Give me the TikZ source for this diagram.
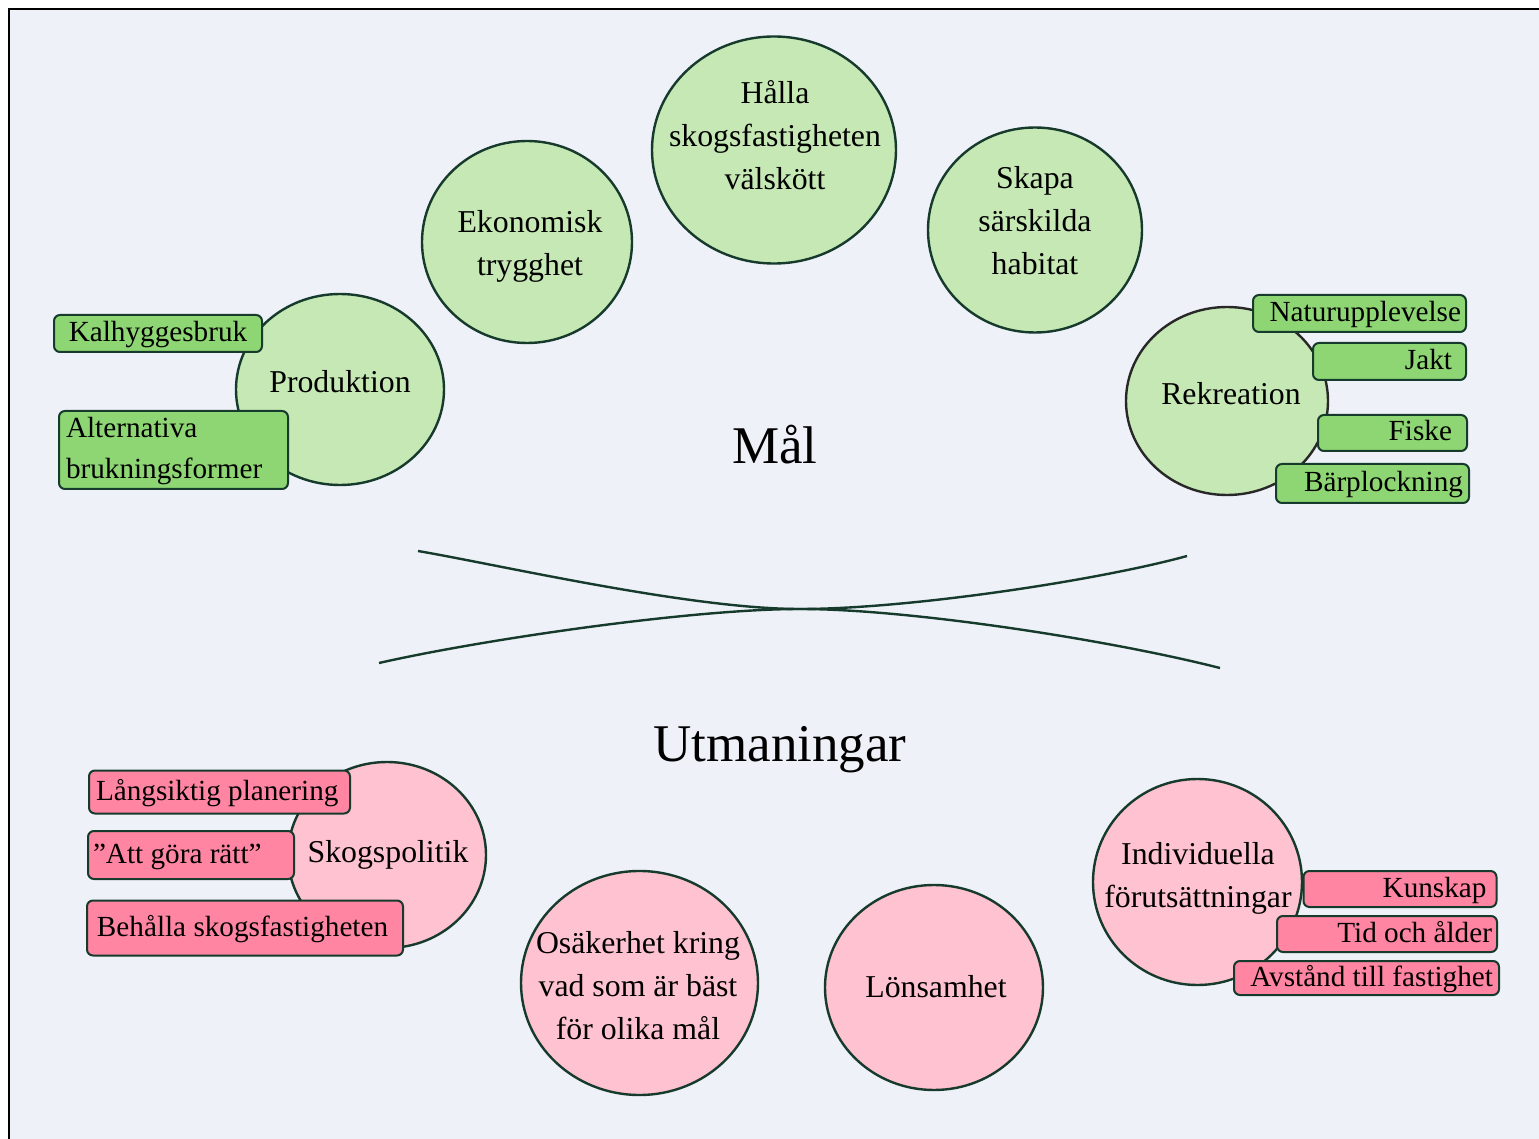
\documentclass[tikz,border=0pt]{standalone}
\usepackage{fontspec}
\setmainfont{Liberation Serif}
\usetikzlibrary{shapes,positioning}

\definecolor{pagebg}{RGB}{238,241,248}
\definecolor{rim}{RGB}{22,58,44}
\definecolor{rimgrey}{RGB}{40,40,40}
\definecolor{goalfill}{RGB}{198,232,180}
\definecolor{goaltag}{RGB}{142,214,115}
\definecolor{hurdlefill}{RGB}{255,194,208}
\definecolor{hurdletag}{RGB}{255,133,162}

\tikzset{
  goal/.style={ellipse, draw=rim, fill=goalfill, line width=1.2pt, inner sep=0pt},
  hurdle/.style={ellipse, draw=rim, fill=hurdlefill, line width=1.2pt, inner sep=0pt},
  ctext/.style={anchor=base, align=center, inner sep=0pt, font=\fontsize{15.9}{21.5}\selectfont},
  tag/.style={draw=rim, rounded corners=3pt, line width=1pt, inner ysep=0pt,
    text height=11pt, text depth=3pt, align=flush right, font=\fontsize{14.6}{20.8}\selectfont},
  gtag/.style={tag, fill=goaltag},
  ptag/.style={tag, fill=hurdletag},
  headline/.style={anchor=base, inner sep=0pt, font=\fontsize{26.5}{32}\selectfont}
}

\begin{document}
\begin{tikzpicture}[x=0.5pt, y=-0.5pt]
    \useasboundingbox (0,0) rectangle (1539,1139);
    % Frame
    \fill[white] (0,0) rectangle (1539,1139);
    \fill[pagebg] (9,9) rectangle (1539,1139);
    \draw[line width=1.4pt] (9,1139) -- (9,9) -- (1539,9);

    % Crossing curves
    \coordinate (upl) at (418,551);
    \coordinate (upr) at (1187,556);
    \coordinate (lowl) at (379,663);
    \coordinate (lowr) at (1220,668);
    \coordinate (meet) at (800,609);
    \draw[rim, line width=1.2pt] (upl) .. controls (500,565) and (690,609) .. (meet)
        .. controls (910,609) and (1110,640) .. (lowr);
    \draw[rim, line width=1.2pt] (lowl) .. controls (480,640) and (690,609) .. (meet)
        .. controls (910,609) and (1100,580) .. (upr);

    % Headings
    \node[headline] (mal) at (775,464) {Mål};
    \node[headline] (utm) at (780,761) {Utmaningar};

    % Goals (text nodes sit on the baseline of their last line)
    \node[goal, minimum width=122pt, minimum height=113.5pt] (halla) at (774,150) {};
    \node[goal, minimum width=105pt, minimum height=101pt] (ekon) at (527,242) {};
    \node[goal, minimum width=107pt, minimum height=102.5pt] (skapa) at (1035,230) {};
    \node[goal, minimum width=104pt, minimum height=95.5pt] (prod) at (340,389.5) {};
    \node[goal, draw=rimgrey, minimum width=101pt, minimum height=94pt] (rekr) at (1227,401) {};
    \node[ctext] (halla-t) at (775,189.5) {Hålla\\skogsfastigheten\\välskött};
    \node[ctext] (ekon-t) at (530,276) {Ekonomisk\\trygghet};
    \node[ctext] (skapa-t) at (1035,275) {Skapa\\särskilda\\habitat};
    \node[ctext] (prod-t) at (340,393) {Produktion};
    \node[ctext] (rekr-t) at (1231,405) {Rekreation};

    % Challenges
    \node[hurdle, minimum width=99pt, minimum height=93pt] (skog) at (387,855) {};
    \node[hurdle, minimum width=118.5pt, minimum height=112pt] (osak) at (639.5,983) {};
    \node[hurdle, minimum width=109pt, minimum height=102.5pt] (lons) at (934,987.5) {};
    \node[hurdle, minimum width=104.5pt, minimum height=103pt] (indiv) at (1197.5,882) {};
    \node[ctext] (skog-t) at (388,862) {Skogspolitik};
    \node[ctext] (osak-t) at (638,1039) {Osäkerhet kring\\vad som är bäst\\för olika mål};
    \node[ctext] (lons-t) at (936,997) {Lönsamhet};
    \node[ctext] (indiv-t) at (1198,907) {Individuella\\förutsättningar};

    % Goal tags
    \node[gtag, align=flush center, text width=96pt, inner xsep=4pt, minimum height=18.5pt] (kalh) at (158,333.5) {Kalhyggesbruk};
    \node[gtag, align=flush left, text depth=, text width=107.5pt, inner xsep=3.5pt, minimum height=39pt] (altb) at (173.5,450) {Alternativa\\brukningsformer};
    \node[gtag, text width=101.5pt, inner xsep=2.5pt, minimum height=18.5pt] (natur) at (1359.5,313.5) {Naturupplevelse};
    \node[gtag, text width=62.5pt, inner xsep=7pt, minimum height=18.5pt] (jakt) at (1389.5,361.5) {Jakt};
    \node[gtag, text width=59.5pt, inner xsep=7.5pt, minimum height=18pt] (fiske) at (1392.5,433) {Fiske};
    \node[gtag, text width=90.5pt, inner xsep=3pt, minimum height=19.5pt] (barp) at (1372.5,483.5) {Bärplockning};

    % Challenge tags
    \node[ptag, align=flush left, text width=123.5pt, inner xsep=3.5pt, minimum height=21.5pt] (lang) at (219.5,792) {Långsiktig planering};
    \node[ptag, align=flush left, text width=98pt, inner xsep=2.5pt, minimum height=24pt] (gora) at (191,855) {”Att göra rätt”};
    \node[ptag, align=flush left, text width=148pt, inner xsep=5pt, minimum height=27.5pt] (behall) at (245,928) {Behålla skogsfastigheten};
    \node[ptag, text width=86.5pt, inner xsep=5pt, minimum height=18pt] (kunsk) at (1400,889) {Kunskap};
    \node[ptag, text width=105pt, inner xsep=2.5pt, minimum height=18pt] (tid) at (1387,934) {Tid och ålder};
    \node[ptag, text width=126.5pt, inner xsep=3pt, minimum height=17pt] (avst) at (1366.5,978) {Avstånd till fastighet};
\end{tikzpicture}
\end{document}
